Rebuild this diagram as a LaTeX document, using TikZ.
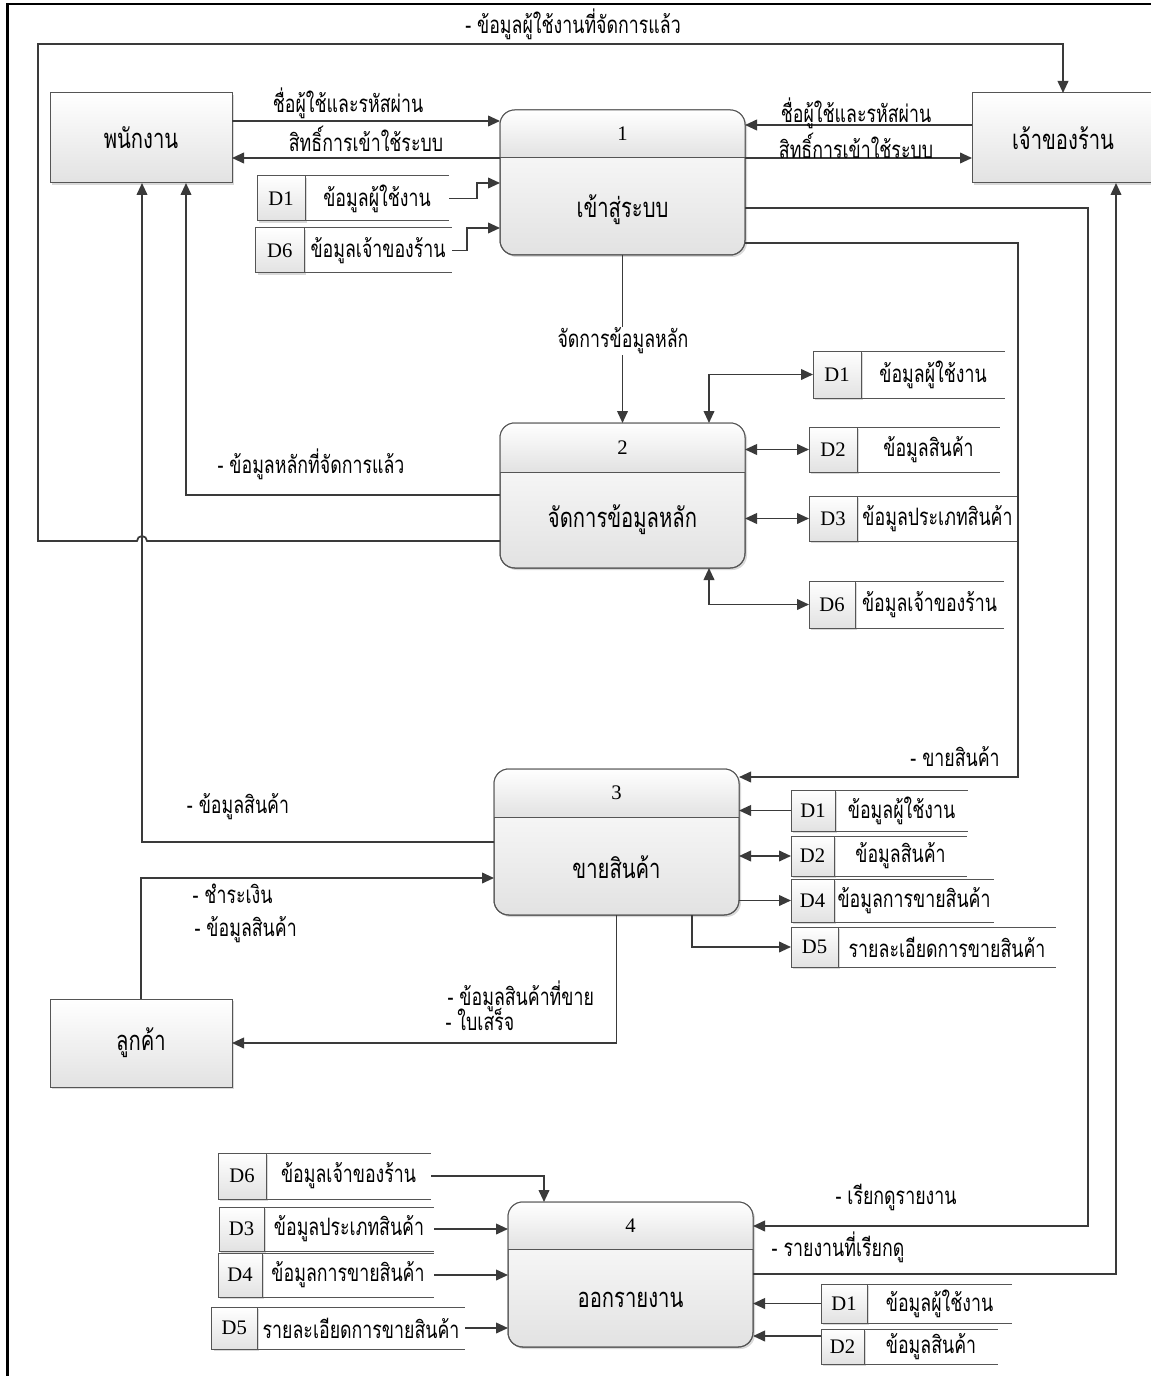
\documentclass[tikz,border=0pt]{standalone}
\usepackage{fontspec}
\setmainfont{Liberation Serif}
\newfontfamily\thaifont[Script=Thai,FakeStretch=0.74]{Loma}
\usetikzlibrary{arrows.meta,shadows,fit,calc}

\definecolor{linec}{HTML}{3A3A3A}
\definecolor{boxc}{HTML}{555555}
\definecolor{shadec}{HTML}{E2E2E2}

\tikzset{
  conn/.style={draw=linec, line width=1.3pt},
  arr/.style={conn, -{Triangle[length=9pt,width=8pt]}},
  darr/.style={conn, {Triangle[length=9pt,width=8pt]}-{Triangle[length=9pt,width=8pt]}},
  shadowed/.style={drop shadow={shadow xshift=1.5pt, shadow yshift=-1.5pt, fill=black, opacity=0.15}},
  entity/.style={draw=boxc, line width=0.75pt, top color=white, bottom color=shadec,
    inner sep=0pt, outer sep=0pt, shadowed},
  procbox/.style={entity, rounded corners=11pt},
  idcell/.style={entity},
  storeline/.style={draw=boxc, line width=0.75pt},
  txt/.style={font=\thaifont\fontsize{18}{20}\selectfont, inner sep=1pt},
  bigtxt/.style={font=\thaifont\fontsize{20.5}{23}\selectfont, inner sep=1pt},
  num/.style={font=\fontsize{15.5}{17}\selectfont, inner sep=1pt},
  lbl/.style={txt},
}

% data store: name, left x, divider x, right x, top y, bottom y, id, title
\newcommand{\datastore}[8]{%
  \node[fit={(#2,#5) (#4,#6)}, inner sep=0pt, outer sep=0pt] (#1) {};
  \node[idcell, fit={(#2,#5) (#3,#6)}] (#1-id) {};
  \draw[storeline] (#1-id.north east) -- (#1.north east);
  \draw[storeline] (#1-id.south east) -- (#1.south east);
  \node[num] at (#1-id.center) {#7};
  \node[txt] at ($(#1-id.east)!0.5!(#1.east)$) {#8};
}

% process: name, x1, y1, x2, y2, header y, number, title, title y
\newcommand{\process}[9]{%
  \node[procbox, fit={(#2,#3) (#4,#5)}] (#1) {};
  \begin{scope}
    \clip[rounded corners=11pt] (#2,#3) rectangle (#4,#5);
    \shade[top color=white, bottom color=shadec] (#2,#3) rectangle (#4,#6);
  \end{scope}
  \draw[draw=boxc, line width=0.75pt, rounded corners=11pt] (#2,#3) rectangle (#4,#5);
  \draw[draw=boxc, line width=0.75pt] (#2,#6) -- (#4,#6);
  \node[num] at ($(#2,#3)!0.5!(#4,#6)$) {#7};
  \node[bigtxt] at ({(#2+#4)/2},#9) {#8};
}

\begin{document}
\begin{tikzpicture}[x=0.75pt,y=-0.75pt]
\useasboundingbox (0,0) rectangle (1151,1376);
\clip (0,0) rectangle (1151,1376);
\fill[white] (0,0) rectangle (1151,1376);

% page frame
\draw[black, line width=2.2pt] (7.5,1400) -- (7.5,4) -- (1170,4);

% external entities
\node[entity, fit={(50,93) (232,183)}] (emp) {};
\node[bigtxt] at (emp.center) {พนักงาน};
\node[entity, fit={(972,93) (1154,183)}] (own) {};
\node[bigtxt] at (own.center) {เจ้าของร้าน};
\node[entity, fit={(50,999) (232,1087)}] (cus) {};
\node[bigtxt] at (cus.center) {ลูกค้า};

% processes
\process{p1}{500}{110}{745}{255}{158}{1}{เข้าสู่ระบบ}{210}
\process{p2}{500}{423}{745}{568}{472}{2}{จัดการข้อมูลหลัก}{520}
\process{p3}{494}{769}{739}{915}{817}{3}{ขายสินค้า}{867}
\process{p4}{508}{1202}{753}{1347}{1249}{4}{ออกรายงาน}{1300}

% data stores
\datastore{s1a}{257}{305}{449}{176}{221}{D1}{ข้อมูลผู้ใช้งาน}
\datastore{s1b}{255.5}{304}{452}{228}{273}{D6}{ข้อมูลเจ้าของร้าน}
\datastore{s2a}{813}{861}{1005}{351}{398}{D1}{ข้อมูลผู้ใช้งาน}
\datastore{s2b}{809}{857}{1000}{427}{472}{D2}{ข้อมูลสินค้า}
\datastore{s2c}{809}{857}{1018}{496}{541}{D3}{ข้อมูลประเภทสินค้า}
\datastore{s2d}{809}{855}{1004}{581}{628}{D6}{ข้อมูลเจ้าของร้าน}
\datastore{s3a}{791}{835}{968}{790}{831}{D1}{ข้อมูลผู้ใช้งาน}
\datastore{s3b}{791}{834}{967}{836}{876}{D2}{ข้อมูลสินค้า}
\datastore{s3c}{791}{834}{994}{879}{922}{D4}{ข้อมูลการขายสินค้า}
\datastore{s3d}{791}{838}{1056}{927}{967}{D5}{รายละเอียดการขายสินค้า}
\datastore{s4a}{218}{266}{431}{1153}{1199}{D6}{ข้อมูลเจ้าของร้าน}
\datastore{s4b}{219}{264}{434}{1207}{1251}{D3}{ข้อมูลประเภทสินค้า}
\datastore{s4c}{218}{262}{434}{1253}{1297}{D4}{ข้อมูลการขายสินค้า}
\datastore{s4d}{211.5}{257}{465}{1307}{1349}{D5}{รายละเอียดการขายสินค้า}
\datastore{s4e}{821}{867}{1012}{1284}{1323}{D1}{ข้อมูลผู้ใช้งาน}
\datastore{s4f}{821}{864}{998}{1329}{1364}{D2}{ข้อมูลสินค้า}

% login flows
\draw[arr] (emp.east |- 0,121) -- (p1.west |- 0,121);
\node[lbl] at (348,103) {ชื่อผู้ใช้และรหัสผ่าน};
\draw[arr] (p1.west |- 0,158) -- (emp.east |- 0,158);
\node[lbl] at (366,139) {สิทธิ์การเข้าใช้ระบบ};
\draw[arr] (own.west |- 0,125) -- (p1.east |- 0,125);
\node[lbl] at (856,113) {ชื่อผู้ใช้และรหัสผ่าน};
\draw[arr] (p1.east |- 0,158) -- (own.west |- 0,158);
\node[lbl] at (856,146) {สิทธิ์การเข้าใช้ระบบ};
\draw[arr] (s1a.east) -- (477,198.5) -- (477,183) -- (p1.west |- 0,183);
\draw[arr] (s1b.east) -- (467,250.5) -- (467,228) -- (p1.west |- 0,228);

% processed user data back to the owner, hopping over the product line
\draw[arr] (p2.west |- 0,541) -- (147,541)
  arc[start angle=0, end angle=-180, radius=5] -- (38,541) -- (38,44)
  -- (own.north |- 0,44) -- (own.north);
\node[lbl] at (573,24) {- ข้อมูลผู้ใช้งานที่จัดการแล้ว};

% master data
\draw[arr] (p1.south) -- (p2.north);
\node[lbl, fill=white] at (623,341) {จัดการข้อมูลหลัก};
\draw[arr] (p2.west |- 0,495) -- (186,495) -- (emp.south -| 186,0);
\node[lbl] at (311,464) {- ข้อมูลหลักที่จัดการแล้ว};
\draw[darr] (p2.north -| 709,0) |- (s2a.west);
\draw[darr] (p2.east |- s2b.west) -- (s2b.west);
\draw[darr] (p2.east |- s2c.west) -- (s2c.west);
\draw[darr] (p2.south -| 709,0) |- (s2d.west);

% sales
\draw[arr] (p1.east |- 0,243) -- (1018,243) -- (1018,777) -- (p3.east |- 0,777);
\node[lbl] at (955,757) {- ขายสินค้า};
\draw[arr] (p3.west |- 0,842) -- (142,842) -- (emp.south -| 142,0);
\node[lbl] at (238,807) {- ข้อมูลสินค้า};
\draw[arr] (cus.north) -- (cus.north |- 0,878) -- (p3.west |- 0,878);
\node[lbl, anchor=west] at (191,894) {- ชำระเงิน};
\node[lbl, anchor=west] at (193,930) {- ข้อมูลสินค้า};
\draw[arr] (p3.south) -- (p3.south |- 0,1043) -- (cus.east |- 0,1043);
\node[lbl, anchor=west] at (446,996) {- ข้อมูลสินค้าที่ขาย};
\node[lbl, anchor=west] at (444,1019) {- ใบเสร็จ};
\draw[arr] (s3a.west) -- (p3.east |- s3a.west);
\draw[darr] (p3.east |- s3b.west) -- (s3b.west);
\draw[arr] (p3.east |- s3c.west) -- (s3c.west);
\draw[arr] (p3.south -| 692,0) |- (s3d.west);

% reports
\draw[arr] (p1.east |- 0,208) -- (1088,208) -- (1088,1226) -- (p4.east |- 0,1226);
\node[lbl] at (896,1197) {- เรียกดูรายงาน};
\draw[arr] (p4.east |- 0,1274) -- (1116,1274) -- (own.south -| 1116,0);
\node[lbl] at (838,1247) {- รายงานที่เรียกดู};
\draw[arr] (s4a.east) -| (p4.north -| 544,0);
\draw[arr] (s4b.east) -- (p4.west |- s4b.east);
\draw[arr] (s4c.east) -- (p4.west |- s4c.east);
\draw[arr] (s4d.east) -- (p4.west |- s4d.east);
\draw[arr] (s4e.west) -- (p4.east |- s4e.west);
\draw[arr] (s4f.west |- 0,1336) -- (p4.east |- 0,1336);
\end{tikzpicture}
\end{document}
